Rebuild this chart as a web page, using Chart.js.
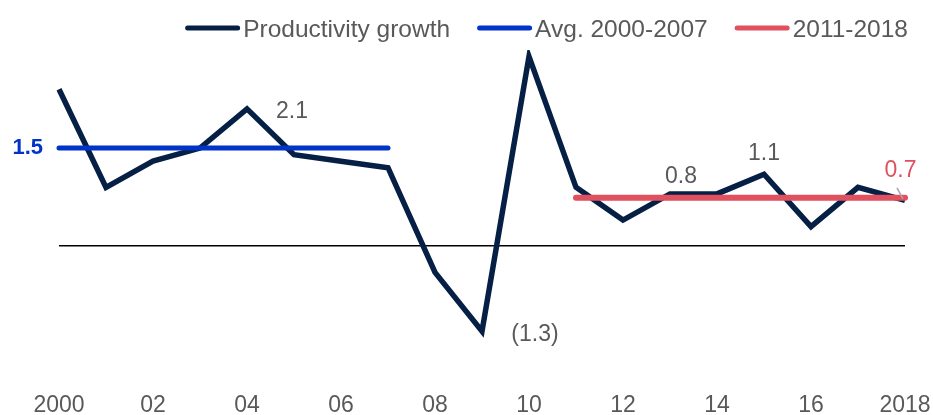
<!DOCTYPE html>
<html>
<head>
<meta charset="utf-8">
<script src="https://cdn.jsdelivr.net/npm/chart.js@4.4.0/dist/chart.umd.min.js"></script>
<style>
  html, body { margin: 0; padding: 0; background: #ffffff; }
  #wrap { width: 933px; height: 415px; position: relative; }
</style>
</head>
<body>
<div id="wrap"><canvas id="c" width="933" height="415"></canvas></div>
<script>
// ---- data ----
const years = ['2000','2001','2002','2003','2004','2005','2006','2007','2008','2009','2010','2011','2012','2013','2014','2015','2016','2017','2018'];
const tickLabels = ['2000','','02','','04','','06','','08','','10','','12','','14','','16','','2018'];
const productivity = [2.4, 0.9, 1.3, 1.5, 2.1, 1.4, 1.3, 1.2, -0.4, -1.3, 2.9, 0.9, 0.4, 0.8, 0.8, 1.1, 0.3, 0.9, 0.7];
const avg2000to2007 = [1.5, 1.5, 1.5, 1.5, 1.5, 1.5, 1.5, 1.5, null, null, null, null, null, null, null, null, null, null, null];
const avg2011to2018 = [null, null, null, null, null, null, null, null, null, null, null, 0.74, 0.74, 0.74, 0.74, 0.74, 0.74, 0.74, 0.74];
const seriesNames = ['Productivity growth', 'Avg. 2000-2007', '2011-2018'];
const labelledYears = ['2004', '2009', '2013', '2015'];

const NAVY = '#061f45', BLUE = '#0033c8', RED = '#e0505e', GREY = '#595959';
const FONT = '"Liberation Sans", Arial, sans-serif';

function fmt(v) { return v < 0 ? '(' + Math.abs(v).toFixed(1) + ')' : v.toFixed(1); }

// label offsets relative to the point (center x, baseline y)
const labelOffsets = { '2004': [45, 9], '2009': [53, 10], '2013': [11, -11], '2015': [0, -14] };

const customLegend = {
  id: 'customLegend',
  afterDraw(chart) {
    const ctx = chart.ctx;
    ctx.save();
    ctx.font = '24.5px ' + FONT;
    const lineLen = 55, gap = 3, itemGap = 27, yLine = 28, yText = 37;
    const items = chart.data.datasets.map(d => ({ text: d.label, color: d.borderColor }));
    let total = 0;
    items.forEach((it, i) => { it.w = ctx.measureText(it.text).width; total += lineLen + gap + it.w + (i ? itemGap : 0); });
    let x = 908 - total;
    items.forEach((it, i) => {
      if (i) x += itemGap;
      ctx.strokeStyle = it.color; ctx.lineWidth = 5; ctx.lineCap = 'round';
      ctx.beginPath(); ctx.moveTo(x + 2.5, yLine); ctx.lineTo(x + lineLen - 2.5, yLine); ctx.stroke();
      x += lineLen + gap;
      ctx.fillStyle = GREY; ctx.textAlign = 'left'; ctx.textBaseline = 'alphabetic';
      ctx.fillText(it.text, x, yText);
      x += it.w;
    });
    ctx.restore();
  }
};

const dataLabels = {
  id: 'dataLabels',
  afterDatasetsDraw(chart) {
    const ctx = chart.ctx, xs = chart.scales.x, ys = chart.scales.y;
    ctx.save();
    ctx.textBaseline = 'alphabetic';
    ctx.textAlign = 'center';
    ctx.font = '23px ' + FONT;
    ctx.fillStyle = GREY;
    labelledYears.forEach(yr => {
      const i = years.indexOf(yr);
      const v = productivity[i];
      const off = labelOffsets[yr];
      ctx.fillText(fmt(v), xs.getPixelForValue(i) + off[0], ys.getPixelForValue(v) + off[1]);
    });
    // 1.5 label for first average
    const a1 = avg2000to2007[0];
    ctx.font = 'bold 22px ' + FONT;
    ctx.fillStyle = BLUE;
    ctx.textAlign = 'right';
    ctx.fillText(a1.toFixed(1), xs.getPixelForValue(0) - 16, ys.getPixelForValue(a1) + 6);
    // 0.7 label for second average
    const last = years.length - 1;
    const a2 = avg2011to2018[last];
    const px = xs.getPixelForValue(last), py = ys.getPixelForValue(a2);
    ctx.font = '23px ' + FONT;
    ctx.fillStyle = RED;
    ctx.textAlign = 'center';
    ctx.fillText(a2.toFixed(1), px - 4.5, py - 21);
    ctx.strokeStyle = '#a6a6a6'; ctx.lineWidth = 1.5; ctx.lineCap = 'butt';
    ctx.beginPath(); ctx.moveTo(px - 8, py - 10); ctx.lineTo(px - 2, py + 1); ctx.stroke();
    ctx.restore();
  }
};

new Chart(document.getElementById('c'), {
  type: 'line',
  data: {
    labels: years,
    datasets: [
      { label: seriesNames[0], data: productivity, borderColor: NAVY, borderWidth: 5.5, pointRadius: 0, tension: 0, borderJoinStyle: 'miter', borderCapStyle: 'butt', order: 2 },
      { label: seriesNames[1], data: avg2000to2007, borderColor: BLUE, borderWidth: 5, pointRadius: 0, borderCapStyle: 'round', spanGaps: false, clip: false, order: 1 },
      { label: seriesNames[2], data: avg2011to2018, borderColor: RED, borderWidth: 6, pointRadius: 0, borderCapStyle: 'round', spanGaps: false, clip: false, order: 1 }
    ]
  },
  options: {
    responsive: false,
    animation: false,
    devicePixelRatio: 1,
    layout: { padding: { left: 59, right: 28, top: 50, bottom: 0 } },
    plugins: { legend: { display: false }, tooltip: { enabled: false } },
    scales: {
      x: {
        offset: false,
        grid: { display: false },
        border: { display: false },
        afterFit: (s) => { s.height = 38; s.paddingLeft = 0; s.paddingRight = 0; },
        ticks: {
          autoSkip: false, maxRotation: 0, minRotation: 0, padding: 7,
          color: GREY, font: { family: FONT, size: 23 },
          callback: (val, idx) => tickLabels[idx] || null
        }
      },
      y: {
        min: -2, max: 3,
        afterFit: (s) => { s.width = 0; s.paddingTop = 0; s.paddingBottom = 0; },
        ticks: { display: false, stepSize: 1 },
        border: { display: false },
        grid: {
          drawTicks: false,
          lineWidth: 1.5,
          color: (c) => (c.tick && c.tick.value === 0) ? '#000000' : 'rgba(0,0,0,0)'
        }
      }
    }
  },
  plugins: [customLegend, dataLabels]
});
</script>
</body>
</html>
